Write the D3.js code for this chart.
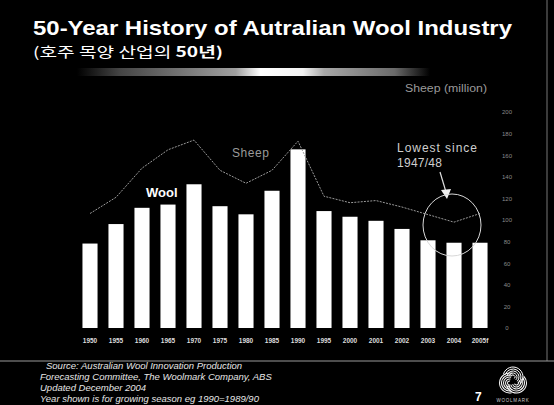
<!DOCTYPE html>
<html lang="en">

<head>
  <meta charset="UTF-8">
  <title>wool-history</title>
  <script src="https://cdn.jsdelivr.net/npm/d3@7/dist/d3.min.js"></script>
  <style type="text/css">
    body {
      margin: 0;
      background: #000;
    }

    svg {
      display: block;
      font-family: Arial, "Liberation Sans", sans-serif;
    }

    .yr text {
      font-size: 6.5px;
      font-weight: bold;
      fill: #ddd;
    }

    .sh text {
      font-size: 6px;
      fill: #8a8a8a;
    }
  </style>
</head>

<body>
  <script type="text/javascript">
    // data
    var years = ['1950', '1955', '1960', '1965', '1970', '1975', '1980', '1985', '1990', '1995',
      '2000', '2001', '2002', '2003', '2004', '2005f']
    // wool production (mkg), bars
    var wool = [520, 640, 740, 760, 885, 750, 700, 845, 1100, 720, 685, 660, 610, 540, 525, 525]
    // sheep numbers (million), dotted line
    var sheep = [106, 121, 148, 165, 174, 146, 134, 146, 173, 122, 116, 118, 112, 105, 98, 106]
    var sheepTicks = [0, 20, 40, 60, 80, 100, 120, 140, 160, 180, 200]
    var footer = ['Source: Australian Wool Innovation Production',
      'Forecasting Committee, The Woolmark Company, ABS',
      'Updated December 2004',
      'Year shown is for growing season eg 1990=1989/90']

    var w = 554
    var h = 405
    var base = 328

    var svg = d3.select('body').append('svg').attr('width', w).attr('height', h)
    svg.append('rect').attr('width', w).attr('height', h).attr('fill', '#000')

    // title block
    svg.append('text').text('50-Year History of Autralian Wool Industry')
      .attr('x', 33).attr('y', 35)
      .attr('textLength', 479).attr('lengthAdjust', 'spacingAndGlyphs')
      .attr('font-size', '21px').attr('font-weight', 'bold').attr('fill', '#fff')
    var sub = svg.append('text').attr('x', 33).attr('y', 57)
      .attr('textLength', 190).attr('lengthAdjust', 'spacingAndGlyphs')
      .attr('font-size', '14px').attr('fill', '#fff')
      .attr('font-family', '"Noto Sans CJK KR", Arial, sans-serif')
    sub.append('tspan').text('(호주 목양 산업의 ')
    sub.append('tspan').text('50년)').attr('font-weight', 'bold')

    // shaded rule under the title
    var grad = svg.append('defs').append('linearGradient').attr('id', 'rule')
    var stops = [[0, '#000'], [0.12, '#444'], [0.45, '#a0a0a0'], [0.52, '#fff'], [0.64, '#f2f2f2'],
      [0.7, '#a8a8a8'], [0.9, '#6a6a6a'], [1, '#000']]
    grad.selectAll('stop').data(stops).enter().append('stop')
      .attr('offset', function (d) { return d[0] })
      .attr('stop-color', function (d) { return d[1] })
    svg.append('rect').attr('x', 77).attr('y', 68).attr('width', 353).attr('height', 8)
      .attr('fill', 'url(#rule)')

    // slide border on the right
    svg.append('line').attr('x1', 547).attr('x2', 547).attr('y1', 0).attr('y2', 361)
      .attr('stroke', '#777').attr('stroke-width', 1)

    // scales
    var x = d3.scaleBand().domain(years).range([77, 493]).paddingInner(0.42).paddingOuter(0.21)
    var yWool = d3.scaleLinear().domain([0, 1330]).range([base, base - 216])
    var ySheep = d3.scaleLinear().domain([0, 200]).range([base, base - 216])

    // bars
    svg.selectAll('rect.bar').data(wool).enter().append('rect').attr('class', 'bar')
      .attr('x', function (d, i) { return x(years[i]) })
      .attr('y', function (d) { return yWool(d) })
      .attr('width', x.bandwidth())
      .attr('height', function (d) { return base - yWool(d) })
      .attr('fill', '#fff')

    // sheep line
    var line = d3.line()
      .x(function (d, i) { return x(years[i]) + x.bandwidth() / 2 })
      .y(function (d) { return ySheep(d) })
    svg.append('path').datum(sheep).attr('d', line)
      .attr('fill', 'none').attr('stroke', '#9a9a9a').attr('stroke-width', 1)
      .attr('stroke-dasharray', '2,1.2')

    // axes
    var xAxis = svg.append('g').attr('class', 'yr').attr('transform', 'translate(0,' + (base + 2) + ')')
      .call(d3.axisBottom(x).tickSize(0).tickPadding(8))
    xAxis.select('.domain').remove()

    var yAxis = svg.append('g').attr('class', 'sh').attr('transform', 'translate(500,0)')
      .call(d3.axisRight(ySheep).tickValues(sheepTicks).tickSize(0).tickPadding(0))
    yAxis.select('.domain').remove()
    yAxis.selectAll('text').attr('text-anchor', 'middle').attr('x', 7)

    svg.append('text').text('Sheep (million)')
      .attr('x', 405).attr('y', 92).attr('textLength', 82).attr('lengthAdjust', 'spacingAndGlyphs')
      .attr('font-size', '10px').attr('fill', '#9a9a9a')

    // series labels
    svg.append('text').text('Sheep').attr('x', 232).attr('y', 157)
      .attr('textLength', 37).attr('font-size', '12px').attr('fill', '#9a9a9a')
    svg.append('text').text('Wool').attr('x', 146).attr('y', 197)
      .attr('font-size', '13px').attr('font-weight', 'bold').attr('fill', '#fff')

    // note about the 2004 low
    svg.append('text').text('Lowest since').attr('x', 397).attr('y', 152)
      .attr('textLength', 80).attr('font-size', '12px').attr('fill', '#cfcfcf')
    svg.append('text').text('1947/48').attr('x', 397).attr('y', 167)
      .attr('textLength', 45).attr('font-size', '12px').attr('fill', '#cfcfcf')
    svg.append('line').attr('x1', 440).attr('y1', 172).attr('x2', 446).attr('y2', 192)
      .attr('stroke', '#ddd').attr('stroke-width', 1.2)
    svg.append('path').attr('d', 'M447,199 L441,190 L451,189 Z').attr('fill', '#eee')
    svg.append('ellipse').attr('cx', 452).attr('cy', 225).attr('rx', 29).attr('ry', 31)
      .attr('fill', 'none').attr('stroke', '#d8d8d8').attr('stroke-width', 1)

    // footer
    svg.append('line').attr('x1', 0).attr('x2', w).attr('y1', 361).attr('y2', 361)
      .attr('stroke', '#9a9a9a').attr('stroke-width', 1)
    svg.selectAll('text.foot').data(footer).enter().append('text').attr('class', 'foot')
      .text(function (d) { return d })
      .attr('x', function (d, i) { return i == 0 ? 46 : 40 })
      .attr('y', function (d, i) { return 369 + i * 11 })
      .attr('font-size', '9.5px').attr('font-style', 'italic').attr('fill', '#e6e6e6')

    svg.append('text').text('7').attr('x', 475).attr('y', 401)
      .attr('font-size', '12px').attr('font-weight', 'bold').attr('fill', '#fff')

    // woolmark logo, three nested lobes
    var logo = svg.append('g').attr('transform', 'translate(513,381)')
    for (var k = 0; k < 3; k++) {
      var ang = k * 120
      var lobe = logo.append('g').attr('transform', 'rotate(' + ang + ') translate(0,-4)')
      for (var r = 2; r <= 10; r += 2) {
        var p = d3.path()
        p.arc(0, 0, r, -Math.PI * 0.9, Math.PI * 0.25)
        lobe.append('path').attr('d', p.toString())
          .attr('fill', 'none').attr('stroke', '#fff').attr('stroke-width', 1)
      }
    }
    svg.append('text').text('WOOLMARK').attr('x', 513).attr('y', 402)
      .attr('text-anchor', 'middle').attr('font-size', '4.5px').attr('letter-spacing', '0.8px')
      .attr('fill', '#ccc')
  </script>
</body>

</html>
